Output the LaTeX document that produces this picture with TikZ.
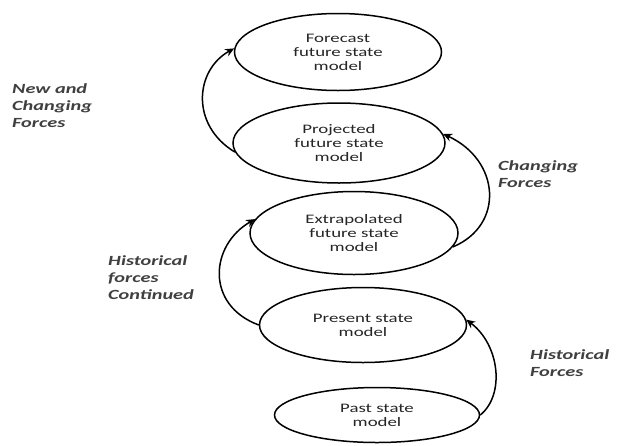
\documentclass[tikz,border=0pt]{standalone}
\usepackage{fontspec}
\setmainfont{Carlito}
\newfontfamily\ellfont[FakeStretch=1.45]{Carlito}
\newfontfamily\labfont[FakeStretch=1.45]{Carlito}
\usetikzlibrary{shapes.geometric,arrows.meta}
\begin{document}
\begin{tikzpicture}[x=1pt,y=-1pt,
  state/.style={ellipse, draw, line width=1.5pt, inner sep=0pt, align=center,
    font=\ellfont\fontsize{13}{14}\selectfont, text=black!85},
  lab/.style={anchor=north west, align=left, inner sep=0pt,
    font=\labfont\bfseries\itshape\fontsize{14}{17}\selectfont, text=black!75},
  flow/.style={line width=1.5pt, -{Stealth[length=9pt,width=8pt]}}]
\fill[white] (0,0) rectangle (617,445);
\useasboundingbox (0,0) rectangle (617,445);
\node[state, minimum width=207pt, minimum height=77pt] (fore) at (338,52) {Forecast\\future state\\model};
\node[state, minimum width=212pt, minimum height=80pt] (proj) at (339,143) {Projected\\future state\\model};
\node[state, minimum width=208pt, minimum height=83pt] (extr) at (354,233) {Extrapolated\\future state\\model};
\node[state, minimum width=207pt, minimum height=75pt] (pres) at (363,325) {Present state\\model};
\node[state, minimum width=205pt, minimum height=55pt] (past) at (377,415) {Past state\\model};
\draw[flow] (proj.185) .. controls (190,125) and (195,70) .. (fore.178);
\draw[flow] (extr.-8) .. controls (505,225) and (500,160) .. (proj.5);
\draw[flow] (pres.west) .. controls (205,305) and (210,245) .. (extr.172);
\draw[flow] (past.east) .. controls (505,395) and (500,345) .. (pres.3);
\node[lab] (l1) at (12,83) {New and\\Changing\\Forces};
\node[lab] (l2) at (498,160) {Changing\\Forces};
\node[lab] (l3) at (530,349) {Historical\\Forces};
\node[lab] (l4) at (108,255) {Historical\\forces\\Continued};
\end{tikzpicture}
\end{document}
